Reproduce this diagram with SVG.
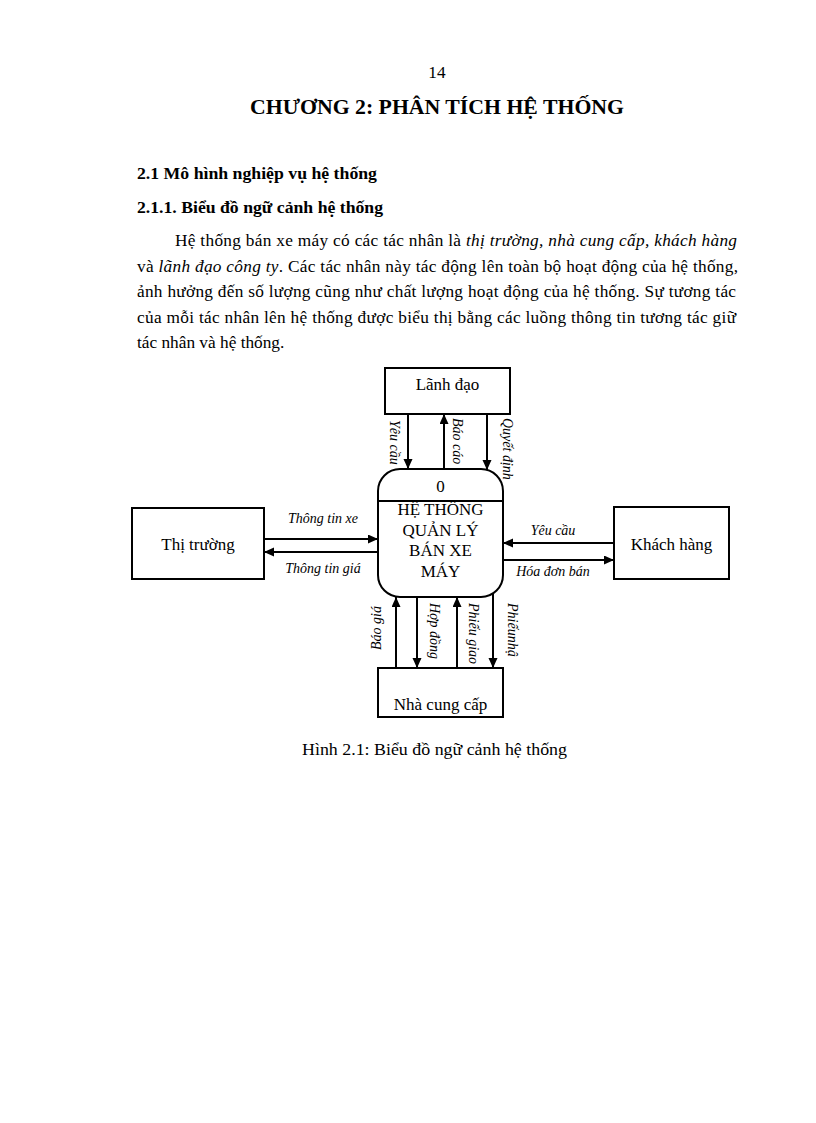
<svg xmlns="http://www.w3.org/2000/svg" width="816" height="1123" viewBox="0 0 816 1123">
<style>
text{font-family:"Liberation Serif","Times New Roman",serif;fill:#000}
.body{font-size:17.3px}
.b{font-weight:bold}
.i{font-style:italic}
.lbl{font-size:14px;font-style:italic}
.node{font-size:17px}
.box{fill:#fff;stroke:#000;stroke-width:2}
.c{stroke:#000;stroke-width:2;fill:none;marker-end:url(#ah)}
</style>
<defs>
<marker id="ah" markerUnits="userSpaceOnUse" markerWidth="10" markerHeight="10" refX="10" refY="4.5" orient="auto">
<path d="M0,0 L10,4.5 L0,9 z" fill="#000"/>
</marker>
</defs>
<rect width="816" height="1123" fill="#fff"/>
<text x="437" y="78" class="body" text-anchor="middle">14</text>
<text x="437" y="114" text-anchor="middle" class="b" style="font-size:22px" textLength="374" lengthAdjust="spacingAndGlyphs">CHƯƠNG 2: PHÂN TÍCH HỆ THỐNG</text>
<text x="137" y="179" class="body b" textLength="240" lengthAdjust="spacingAndGlyphs">2.1 Mô hình nghiệp vụ hệ thống</text>
<text x="137" y="213" class="body b" textLength="246" lengthAdjust="spacingAndGlyphs">2.1.1. Biểu đồ ngữ cảnh hệ thống</text>
<text x="175" y="246" class="body" textLength="562" lengthAdjust="spacing">Hệ thống bán xe máy có các tác nhân là <tspan class="i">thị trường, nhà cung cấp, khách hàng</tspan></text>
<text x="137" y="271.5" class="body" textLength="601" lengthAdjust="spacing">và <tspan class="i">lãnh đạo công ty</tspan>. Các tác nhân này tác động lên toàn bộ hoạt động của hệ thống,</text>
<text x="137" y="297" class="body" textLength="599" lengthAdjust="spacing">ảnh hưởng đến số lượng cũng như chất lượng hoạt động của hệ thống. Sự tương tác</text>
<text x="137" y="322.5" class="body" textLength="599" lengthAdjust="spacing">của mỗi tác nhân lên hệ thống được biểu thị bằng các luồng thông tin tương tác giữ</text>
<text x="137" y="348" class="body">tác nhân và hệ thống.</text>

<g id="connectors">
<line class="c" x1="408" y1="414" x2="408" y2="469"/>
<line class="c" x1="444" y1="469" x2="444" y2="414"/>
<line class="c" x1="487" y1="414" x2="487" y2="470"/>
<line class="c" x1="264" y1="539" x2="378" y2="539"/>
<line class="c" x1="378" y1="552" x2="264" y2="552"/>
<line class="c" x1="614" y1="543" x2="503" y2="543"/>
<line class="c" x1="503" y1="560" x2="614" y2="560"/>
<line class="c" x1="396" y1="668" x2="396" y2="597"/>
<line class="c" x1="417" y1="597" x2="417" y2="668"/>
<line class="c" x1="457" y1="668" x2="457" y2="597"/>
<line class="c" x1="493" y1="594" x2="493" y2="668"/>
<text class="lbl" transform="translate(390,420) rotate(90)">Yêu cầu</text>
<text class="lbl" transform="translate(453,418) rotate(90)">Báo cáo</text>
<text class="lbl" transform="translate(503,418) rotate(90)">Quyết định</text>
<text class="lbl" x="323" y="523" text-anchor="middle">Thông tin xe</text>
<text class="lbl" x="323" y="573" text-anchor="middle">Thông tin giá</text>
<text class="lbl" x="553" y="535" text-anchor="middle">Yêu cầu</text>
<text class="lbl" x="553" y="576" text-anchor="middle">Hóa đơn bán</text>
<text class="lbl" transform="translate(381,650) rotate(-90)">Báo giá</text>
<text class="lbl" transform="translate(430,603) rotate(90)">Hợp đồng</text>
<text class="lbl" transform="translate(469,603) rotate(90)">Phiếu giao</text>
<text class="lbl" transform="translate(508,603) rotate(90)">Phiếunhậ</text>
</g>

<g id="lanh-dao">
<rect class="box" x="385" y="368" width="125" height="46"/>
<text class="node" x="447.5" y="390" text-anchor="middle">Lãnh đạo</text>
</g>
<g id="thi-truong">
<rect class="box" x="132" y="508" width="132" height="71"/>
<text class="node" x="198" y="550" text-anchor="middle">Thị trường</text>
</g>
<g id="khach-hang">
<rect class="box" x="614" y="507" width="115" height="72"/>
<text class="node" x="671.5" y="550" text-anchor="middle">Khách hàng</text>
</g>
<g id="nha-cung-cap">
<rect class="box" x="378" y="668" width="125" height="49"/>
<text class="node" x="440.5" y="710" text-anchor="middle">Nhà cung cấp</text>
</g>
<g id="process-0">
<rect class="box" x="378" y="469" width="125" height="128" rx="22" ry="22"/>
<line x1="378" y1="501" x2="503" y2="501" stroke="#000" stroke-width="2"/>
<text class="node" x="440.5" y="492" text-anchor="middle">0</text>
<text class="node" x="440.5" y="515" text-anchor="middle">HỆ THỐNG</text>
<text class="node" x="440.5" y="536" text-anchor="middle">QUẢN LÝ</text>
<text class="node" x="440.5" y="556" text-anchor="middle">BÁN XE</text>
<text class="node" x="440.5" y="577" text-anchor="middle">MÁY</text>
</g>
<text x="434.5" y="755" class="body" text-anchor="middle" textLength="265" lengthAdjust="spacingAndGlyphs">Hình 2.1: Biểu đồ ngữ cảnh hệ thống</text>
</svg>
